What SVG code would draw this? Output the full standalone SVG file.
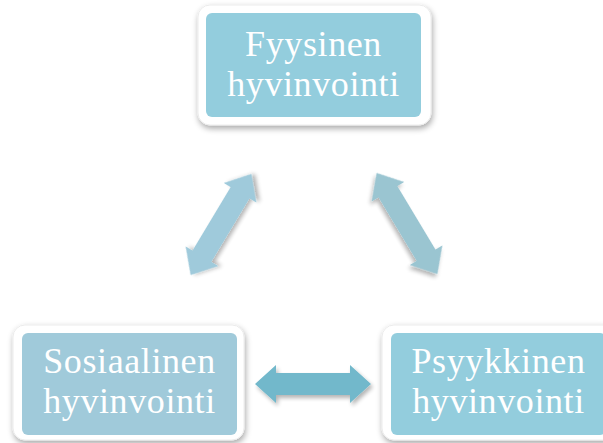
<svg xmlns="http://www.w3.org/2000/svg" width="603" height="443" viewBox="0 0 603 443">
<defs>
<filter id="sh" x="-20%" y="-20%" width="140%" height="150%">
<feGaussianBlur in="SourceAlpha" stdDeviation="3"/>
<feOffset dx="1" dy="3" result="b"/>
<feComponentTransfer><feFuncA type="linear" slope="0.35"/></feComponentTransfer>
<feMerge><feMergeNode/><feMergeNode in="SourceGraphic"/></feMerge>
</filter>
<filter id="ash" x="-30%" y="-30%" width="160%" height="160%">
<feGaussianBlur in="SourceAlpha" stdDeviation="2"/>
<feOffset dx="2" dy="3" result="b"/>
<feComponentTransfer><feFuncA type="linear" slope="0.3"/></feComponentTransfer>
<feMerge><feMergeNode/><feMergeNode in="SourceGraphic"/></feMerge>
</filter>
</defs>
<style>
.outer{fill:#ffffff;stroke:#ececec;stroke-width:1;}
.lbl{font-family:"Liberation Serif","DejaVu Serif",serif;font-size:36px;letter-spacing:0.6px;fill:#ffffff;text-anchor:middle;}
</style>
<rect width="603" height="443" fill="#ffffff"/>
<g id="connectors">
<polygon filter="url(#ash)" fill="#9FCADB" transform="translate(221,224.5) rotate(-59)" points="-59,0 -37,-19 -37,-11 37,-11 37,-19 59,0 37,19 37,11 -37,11 -37,19"/>
<polygon filter="url(#ash)" fill="#9AC5D1" transform="translate(407,223.5) rotate(59)" points="-59,0 -37,-19 -37,-11 37,-11 37,-19 59,0 37,19 37,11 -37,11 -37,19"/>
<polygon filter="url(#ash)" fill="#72B8CB" transform="translate(313,384)" points="-58,0 -37,-19 -37,-11 37,-11 37,-19 58,0 37,19 37,11 -37,11 -37,19"/>
</g>
<g id="fyysinen">
<rect class="outer" filter="url(#sh)" x="198" y="5" width="233" height="120" rx="12"/>
<rect x="206" y="13" width="215" height="104" rx="6" fill="#93CDDD"/>
<text class="lbl" x="313.5" y="56">Fyysinen</text>
<text class="lbl" x="313.5" y="96">hyvinvointi</text>
</g>
<g id="sosiaalinen">
<rect class="outer" filter="url(#sh)" x="13" y="325" width="231" height="115" rx="12"/>
<rect x="22" y="333" width="215" height="102" rx="6" fill="#A0CADA"/>
<text class="lbl" x="129.5" y="373">Sosiaalinen</text>
<text class="lbl" x="129.5" y="413">hyvinvointi</text>
</g>
<g id="psyykkinen">
<rect class="outer" filter="url(#sh)" x="382" y="325" width="233" height="115" rx="12"/>
<rect x="391" y="333" width="215" height="102" rx="6" fill="#93CDDD"/>
<text class="lbl" x="498.5" y="373">Psyykkinen</text>
<text class="lbl" x="498.5" y="413">hyvinvointi</text>
</g>
</svg>
